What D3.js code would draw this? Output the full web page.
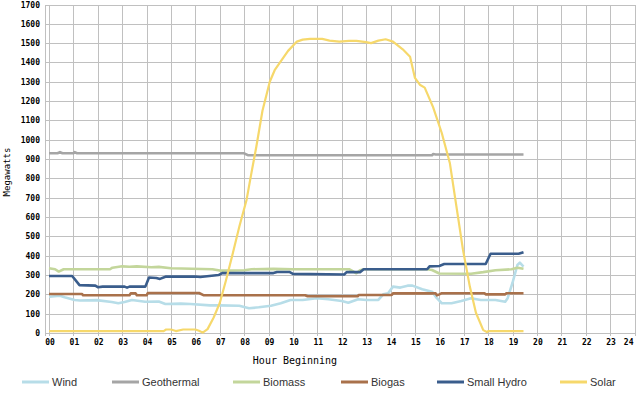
<!DOCTYPE html>
<html>
<head>
<meta charset="utf-8">
<script src="https://cdn.jsdelivr.net/npm/d3@7"></script>
<style>
    body { margin: 0; background: #fff; }
    svg text { fill: #000; }
</style>
</head>
<body>
<svg id="chart" width="640" height="396"></svg>
<script>
// hour ticks and series, each as [hour, MW]
const hourTicks = d3.range(0, 25);
const mwTicks = d3.range(0, 1701, 100);

const wind = [[0,188],[0.45,193],[0.64,185],[1.05,171],[1.27,168],[1.95,170],[2.57,160],[2.84,154],[3.1,160],[3.4,171],[3.94,162],[4.5,163],[4.77,150],[5.4,152],[5.8,150],[6.6,143],[7.0,143],[7.8,141],[8.2,128],[8.6,133],[9.1,141],[9.5,154],[9.9,171],[10.4,171],[10.97,180],[11.45,175],[12.0,166],[12.27,157],[12.67,175],[13.0,171],[13.5,171],[13.7,200],[13.9,206],[14.1,240],[14.4,235],[14.7,245],[14.9,245],[15.3,226],[15.7,214],[15.9,180],[16.1,154],[16.5,154],[16.9,166],[17.3,180],[17.7,171],[18.3,171],[18.7,162],[18.8,180],[19.0,260],[19.2,352],[19.3,364],[19.45,344]];
const geothermal = [[0,930],[0.35,930],[0.45,936],[0.55,930],[1.0,930],[1.05,936],[1.15,930],[8.0,930],[8.15,920],[15.7,920],[15.75,926],[15.85,924],[19.45,924]];
const biomass = [[0,335],[0.25,330],[0.4,318],[0.6,330],[2.5,330],[2.6,338],[3.0,345],[3.3,343],[3.6,345],[4.2,340],[4.5,342],[5.0,335],[6.7,330],[7.0,323],[8.0,325],[8.3,330],[9.2,332],[10.0,330],[12.3,330],[12.45,320],[12.6,309],[12.75,325],[12.9,330],[15.5,330],[15.7,326],[16.0,308],[17.3,307],[17.8,315],[18.3,325],[18.96,330],[19.2,338],[19.45,332]];
const biogas = [[0,202],[1.35,202],[1.4,195],[3.3,195],[3.35,205],[3.55,205],[3.6,195],[4.0,195],[4.05,207],[6.15,207],[6.35,195],[10.5,195],[10.6,190],[12.65,190],[12.7,197],[14.05,197],[14.1,205],[15.85,205],[15.9,195],[16.0,200],[16.1,206],[17.85,206],[17.9,200],[18.7,200],[18.75,206],[19.45,206]];
const smallHydro = [[0,295],[0.95,295],[1.25,248],[1.9,245],[2.0,237],[2.2,240],[3.1,240],[3.2,235],[3.3,240],[3.95,240],[4.1,287],[4.4,285],[4.55,280],[4.8,292],[6.0,292],[6.2,290],[6.95,300],[7.1,310],[9.2,310],[9.35,316],[9.85,316],[10.0,306],[12.1,303],[12.2,315],[12.75,315],[12.9,330],[15.5,330],[15.6,345],[16.0,347],[16.2,357],[17.9,357],[18.1,410],[19.25,410],[19.45,418]];
const solar = [[0,10],[4.7,10],[4.8,18],[5.0,18],[5.2,10],[5.5,18],[6.0,18],[6.15,12],[6.3,2],[6.5,20],[6.75,80],[7.0,155],[7.25,270],[7.54,415],[7.8,550],[8.1,690],[8.3,830],[8.5,965],[8.75,1150],[9.05,1300],[9.25,1360],[9.47,1400],[9.8,1460],[10.16,1508],[10.4,1518],[10.7,1522],[11.2,1522],[11.5,1513],[11.9,1508],[12.3,1512],[12.6,1512],[13.0,1505],[13.2,1500],[13.5,1513],[13.8,1520],[14.1,1508],[14.5,1468],[14.8,1430],[15.0,1320],[15.2,1285],[15.4,1270],[15.74,1170],[16.1,1035],[16.43,880],[16.7,655],[16.97,430],[17.25,240],[17.5,105],[17.8,15],[17.95,5],[18.0,10],[19.45,10]];

const seriesNames = ['Wind', 'Geothermal', 'Biomass', 'Biogas', 'Small Hydro', 'Solar'];
const seriesData = [wind, geothermal, biomass, biogas, smallHydro, solar];
const seriesColors = ['#b7dde8', '#a5a5a5', '#c3d69b', '#a9714b', '#3a5d8c', '#f6d86b'];
const seriesWidths = [2.6, 2.6, 2.6, 2.6, 2.6, 2.2];

const svg = d3.select('#chart');
const x = d3.scaleLinear().domain([0, 24]).range([49, 634.5]);
const y = d3.scaleLinear().domain([0, 1700]).range([333, 4.5]);

const grid = svg.append('g').attr('stroke', '#c0c0c0').attr('stroke-width', 1).attr('shape-rendering', 'crispEdges');
grid.selectAll('.h').data(mwTicks).enter().append('line')
    .attr('x1', 45).attr('x2', x(24))
    .attr('y1', d => Math.round(y(d)) + 0.5).attr('y2', d => Math.round(y(d)) + 0.5);
grid.selectAll('.v').data(hourTicks).enter().append('line')
    .attr('x1', d => Math.round(x(d)) + 0.5).attr('x2', d => Math.round(x(d)) + 0.5)
    .attr('y1', y(1700)).attr('y2', 336);
// left axis line
grid.append('line').attr('x1', 45.5).attr('x2', 45.5).attr('y1', y(1700)).attr('y2', 336);

// y tick labels
svg.append('g').selectAll('text').data(mwTicks).enter().append('text')
    .attr('x', 40).attr('y', d => y(d) + 3)
    .attr('text-anchor', 'end')
    .style('font', 'bold 8px "DejaVu Sans Mono"')
    .text(d => d);

// x tick labels, last one pulled inside the edge
svg.append('g').selectAll('text').data(hourTicks).enter().append('text')
    .attr('x', d => d === 24 ? x(d) - 1 : x(d) + 1)
    .attr('y', 345)
    .attr('text-anchor', d => d === 24 ? 'end' : 'middle')
    .style('font', 'bold 8px "DejaVu Sans Mono"')
    .text(d => d3.format('02d')(d));

svg.append('text')
    .attr('transform', 'translate(10,172) rotate(-90)')
    .attr('text-anchor', 'middle')
    .style('font', '9px "DejaVu Sans Mono"')
    .text('Megawatts');

svg.append('text')
    .attr('x', 295).attr('y', 364)
    .attr('text-anchor', 'middle')
    .style('font', '10px "DejaVu Sans Mono"')
    .text('Hour Beginning');

const line = d3.line().x(d => x(d[0])).y(d => y(d[1]));

svg.append('g').selectAll('path').data(seriesData).enter().append('path')
    .attr('d', line)
    .attr('fill', 'none')
    .attr('stroke', (d, i) => seriesColors[i])
    .attr('stroke-width', (d, i) => seriesWidths[i])
    .attr('stroke-linejoin', 'round');

// legend
const legendX = [22, 112, 233, 341, 437, 560];
const legend = svg.append('g').selectAll('g').data(seriesNames).enter().append('g')
    .attr('transform', (d, i) => `translate(${legendX[i]},382)`);
legend.append('line')
    .attr('x1', 0).attr('x2', 27)
    .attr('stroke', (d, i) => seriesColors[i])
    .attr('stroke-width', 3);
legend.append('text')
    .attr('x', 30).attr('y', 4)
    .style('font', '11px "Liberation Sans"')
    .style('fill', '#333')
    .text(d => d);
</script>
</body>
</html>
